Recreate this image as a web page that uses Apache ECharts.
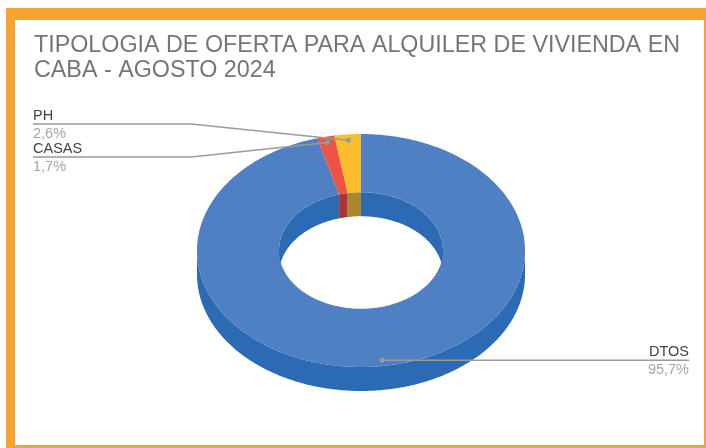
<!DOCTYPE html>
<html>
<head>
<meta charset="utf-8">
<script src="https://cdn.jsdelivr.net/npm/echarts@6/dist/echarts.min.js"></script>
<style>
    html, body { margin: 0; padding: 0; background: #fff; }
    .marco { position: absolute; left: 6px; top: 8px; width: 700px; height: 440px; background: #f8a231; }
    .hoja { position: absolute; left: 15px; top: 20px; width: 689px; height: 425px; background: #fff; }
    #chart { position: absolute; left: 0; top: 0; width: 706px; height: 448px; }
</style>
</head>
<body>
<div class="marco"></div>
<div class="hoja"></div>
<div id="chart"></div>
<script>
// datos del grafico
var categorias = ["DTOS", "CASAS", "PH"];
var valores = [95.7, 1.7, 2.6];

// colores: cara superior y lateral
var coloresTop = ["#4f80c3", "#ee5446", "#fbbd2c"];
var coloresLado = ["#2c6ab3", "#a83532", "#a8882a"];

(function () {
    var myChart = echarts.init(document.getElementById("chart"));

    var total = valores.reduce(function (a, b) { return a + b; }, 0);
    var inicio = [];
    var acum = 0;
    valores.forEach(function (v) { inicio.push(acum); acum += v; });

    // geometria de la dona "3D"
    var cx = 361, cy = 250.5, rx = 164, ry = 116.5, interior = 0.5, prof = 24;

    function punto(t, f, dz) {
        var a = t * Math.PI / 180;
        return [cx + f * rx * Math.sin(a), cy - f * ry * Math.cos(a) + (dz || 0)];
    }
    function arco(t0, t1, f, dz) {
        var pts = [];
        var n = Math.max(2, Math.ceil(Math.abs(t1 - t0)));
        for (var k = 0; k <= n; k++) {
            pts.push(punto(t0 + (t1 - t0) * k / n, f, dz));
        }
        return pts;
    }
    function cortar(a0, a1, b0, b1) {
        var s = Math.max(a0, b0), e = Math.min(a1, b1);
        return s < e ? [s, e] : null;
    }
    function pared(t0, t1, f) {
        return arco(t0, t1, f, 0).concat(arco(t1, t0, f, prof));
    }

    // posiciones de las etiquetas de la izquierda (apiladas)
    var izq = [];
    valores.forEach(function (v, i) {
        var tm = (inicio[i] + v / 2) / total * 360;
        var p = punto(tm, 0.95);
        if (p[0] < cx) izq.push({ i: i, y: p[1] });
    });
    izq.sort(function (a, b) { return a.y - b.y; });
    var filaIzq = {};
    izq.forEach(function (d, k) { filaIzq[d.i] = 124 + k * 33; });

    function pct(v) {
        return (v / total * 100).toFixed(1).replace(".", ",") + "%";
    }

    function renderItem(params, api) {
        var i = params.dataIndex;
        var v = api.value(1);
        var t0 = inicio[i] / total * 360;
        var t1 = t0 + v / total * 360;
        var hijos = [];

        // lateral exterior (mitad delantera)
        var fr = cortar(t0, t1, 90, 270);
        if (fr) {
            hijos.push({ type: "polygon", z2: 1, shape: { points: pared(fr[0], fr[1], 1) },
                style: { fill: coloresLado[i] } });
        }
        // pared interior (mitad trasera, se ve por el agujero)
        [[0, 90], [270, 360]].forEach(function (r) {
            var c = cortar(t0, t1, r[0], r[1]);
            if (c) {
                hijos.push({ type: "polygon", z2: 1, shape: { points: pared(c[0], c[1], interior) },
                    style: { fill: coloresLado[i] } });
            }
        });
        // cara superior
        hijos.push({ type: "polygon", z2: 5,
            shape: { points: arco(t0, t1, 1, 0).concat(arco(t1, t0, interior, 0)) },
            style: { fill: coloresTop[i] } });

        // etiqueta con linea guia
        var tm = (t0 + t1) / 2;
        var p = punto(tm, 0.95);
        var lineas, tx, alinear, ly;
        if (p[0] < cx) {
            ly = filaIzq[i];
            lineas = [p, [191, ly], [33, ly]];
            tx = 33; alinear = "left";
        } else {
            ly = p[1];
            lineas = [p, [689, ly]];
            tx = 689; alinear = "right";
        }
        hijos.push({ type: "polyline", z2: 10, shape: { points: lineas },
            style: { stroke: "#9a9a9a", lineWidth: 1.5, fill: null } });
        hijos.push({ type: "circle", z2: 11, shape: { cx: p[0], cy: p[1], r: 2.5 },
            style: { fill: "#9a9a9a" } });
        hijos.push({ type: "text", z2: 12, style: {
            text: categorias[i], x: tx, y: ly - 8, align: alinear, verticalAlign: "middle",
            fill: "#424242", fontSize: 14.5, fontFamily: "Liberation Sans" } });
        hijos.push({ type: "text", z2: 12, style: {
            text: pct(v), x: tx, y: ly + 10, align: alinear, verticalAlign: "middle",
            fill: "#a6a6a6", fontSize: 14.5, fontFamily: "Liberation Sans" } });

        return { type: "group", children: hijos };
    }

    var option = {
        animation: false,
        title: {
            text: "TIPOLOGIA DE OFERTA PARA ALQUILER DE VIVIENDA EN\nCABA - AGOSTO 2024",
            left: 34,
            top: 33,
            padding: 0,
            textStyle: {
                color: "#757575",
                fontSize: 23.3,
                fontWeight: "normal",
                fontFamily: "Liberation Sans",
                lineHeight: 25
            }
        },
        series: [
            {
                type: "custom",
                coordinateSystem: "none",
                silent: true,
                renderItem: renderItem,
                data: valores.map(function (v, i) { return [i, v]; })
            }
        ]
    };
    myChart.setOption(option);
    window.addEventListener("resize", function () {
        myChart.resize();
    });
})();
</script>
</body>
</html>
